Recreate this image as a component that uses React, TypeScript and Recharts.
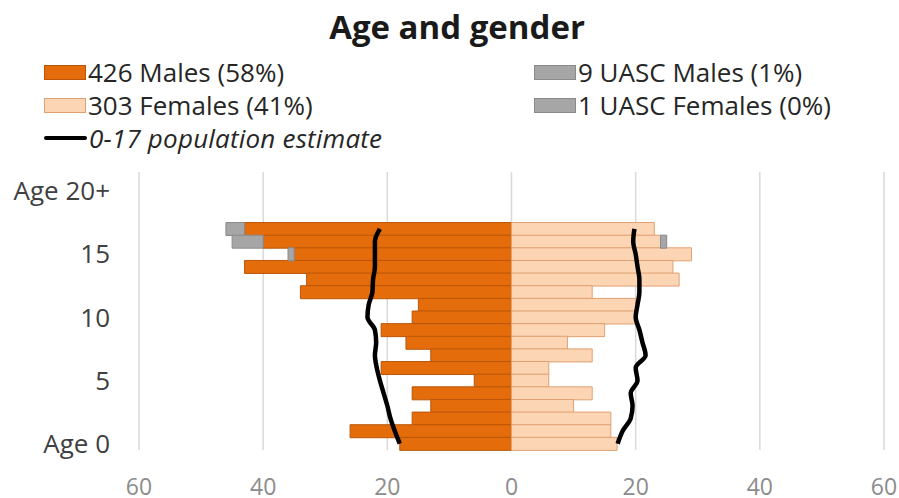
import React from 'react';
import { ComposedChart, Bar, Line, XAxis, YAxis, CartesianGrid } from 'recharts';

// ages 0..17
const ages = [0, 1, 2, 3, 4, 5, 6, 7, 8, 9, 10, 11, 12, 13, 14, 15, 16, 17];
const males = [18, 26, 16, 13, 16, 6, 21, 13, 17, 21, 16, 15, 34, 33, 43, 35, 40, 43];
const uascMales = [0, 0, 0, 0, 0, 0, 0, 0, 0, 0, 0, 0, 0, 0, 0, 1, 5, 3];
const females = [17, 16, 16, 10, 13, 6, 6, 13, 9, 15, 20, 20, 13, 27, 26, 29, 24, 23];
const uascFemales = [0, 0, 0, 0, 0, 0, 0, 0, 0, 0, 0, 0, 0, 0, 0, 0, 1, 0];
const popMale = [18, 18.8, 19.5, 20, 20.6, 21.2, 21.7, 22, 21.8, 22, 23.2, 23, 22.4, 22.3, 22, 22, 22, 21.2];
const popFemale = [17.1, 17.9, 19.2, 19.5, 19.2, 20.3, 20, 21.6, 21.1, 20.6, 20, 20.3, 20.6, 20.6, 20.3, 20, 19.6, 19.8];

// y categories bottom -> top (21 = blank spacer)
const categoryLabels = ['Age 0', '', '', '', '', '5', '', '', '', '', '10', '', '', '', '', '15', '', '', '', '', 'Age 20+', ''];
const xTicks = [-60, -40, -20, 0, 20, 40, 60];

const legendLeft = ['426 Males (58%)', '303 Females (41%)', '0-17 population estimate'];
const legendRight = ['9 UASC Males (1%)', '1 UASC Females (0%)'];

const MALE = '#E46C0A';
const MALE_STROKE = '#B9560A';
const FEMALE = '#FCD5B5';
const FEMALE_STROKE = '#E0A070';
const GREY = '#A6A6A6';
const GREY_STROKE = '#8A8A8A';

const data = categoryLabels
  .map((label, i) => {
    const idx = ages.indexOf(i);
    const has = idx >= 0;
    return {
      key: 'c' + i,
      label,
      male: has ? -males[idx] : null,
      uascMale: has ? -uascMales[idx] : null,
      female: has ? females[idx] : null,
      uascFemale: has ? uascFemales[idx] : null,
      popMale: has ? -popMale[idx] : null,
      popFemale: has ? popFemale[idx] : null,
    };
  })
  .reverse();

const labelByKey: Record<string, string> = {};
data.forEach((d) => (labelByKey[d.key] = d.label));

const FONT = '"Open Sans", "Noto Sans", sans-serif';

const Swatch = ({ fill, stroke }: { fill: string; stroke: string }) => (
  <div style={{ width: 42, height: 15, background: fill, border: `1.5px solid ${stroke}`, boxSizing: 'border-box', flex: 'none' }} />
);

const LegendRow = ({ top, left, children, text, italic }: any) => (
  <div style={{ position: 'absolute', top, left, display: 'flex', alignItems: 'center', height: 30 }}>
    {children}
    <span style={{ marginLeft: 2, fontSize: 26, lineHeight: '30px', color: '#262626', fontStyle: italic ? 'italic' : 'normal', whiteSpace: 'nowrap', letterSpacing: italic ? 0.2 : 0 }}>{text}</span>
  </div>
);

export default function App() {
  return (
    <div style={{ position: 'absolute', left: 0, top: 0, width: 899, height: 498, background: '#fff', fontFamily: FONT, overflow: 'hidden' }}>
      <div style={{ position: 'absolute', top: 6, left: 0, width: 914, textAlign: 'center', fontSize: 33, lineHeight: '42px', fontWeight: 700, color: '#1a1a1a' }}>
        Age and gender
      </div>
      <LegendRow top={57} left={44} text={legendLeft[0]}>
        <Swatch fill={MALE} stroke={MALE_STROKE} />
      </LegendRow>
      <LegendRow top={90} left={44} text={legendLeft[1]}>
        <Swatch fill={FEMALE} stroke={FEMALE_STROKE} />
      </LegendRow>
      <LegendRow top={123} left={44} text={legendLeft[2]} italic>
        <div style={{ width: 43, height: 4, background: '#000', borderRadius: 2, flex: 'none' }} />
      </LegendRow>
      <LegendRow top={57} left={534} text={legendRight[0]}>
        <Swatch fill={GREY} stroke={GREY_STROKE} />
      </LegendRow>
      <LegendRow top={90} left={534} text={legendRight[1]}>
        <Swatch fill={GREY} stroke={GREY_STROKE} />
      </LegendRow>

      <div style={{ position: 'absolute', left: 0, top: 0 }}>
        <ComposedChart
          width={899}
          height={498}
          data={data}
          layout="vertical"
          stackOffset="sign"
          barCategoryGap={0}
          barGap={0}
          margin={{ top: 172, right: 15, bottom: 0, left: 0 }}
        >
          <CartesianGrid horizontal={false} vertical stroke="#D9D9D9" strokeWidth={1.5} />
          <XAxis
            type="number"
            domain={[-60, 60]}
            ticks={xTicks}
            tickFormatter={(v: number) => String(Math.abs(v))}
            axisLine={false}
            tickLine={false}
            tickSize={0}
            tickMargin={29}
            height={48}
            interval={0}
            tick={{ fill: '#8C8C8C', fontSize: 23, fontFamily: FONT }}
          />
          <YAxis
            type="category"
            dataKey="key"
            width={139}
            interval={0}
            axisLine={false}
            tickLine={false}
            tickSize={0}
            tickMargin={29}
            tickFormatter={(k: string) => labelByKey[k] || ''}
            tick={{ fill: '#404040', fontSize: 26, fontFamily: FONT }}
          />
          <Bar dataKey="male" stackId="s" fill={MALE} stroke={MALE_STROKE} strokeWidth={1} isAnimationActive={false} />
          <Bar dataKey="uascMale" stackId="s" fill={GREY} stroke={GREY_STROKE} strokeWidth={1} isAnimationActive={false} />
          <Bar dataKey="female" stackId="s" fill={FEMALE} stroke={FEMALE_STROKE} strokeWidth={1} isAnimationActive={false} />
          <Bar dataKey="uascFemale" stackId="s" fill={GREY} stroke={GREY_STROKE} strokeWidth={1} isAnimationActive={false} />
          <Line dataKey="popMale" type="monotone" stroke="#000" strokeWidth={4.5} dot={false} isAnimationActive={false} />
          <Line dataKey="popFemale" type="monotone" stroke="#000" strokeWidth={4.5} dot={false} isAnimationActive={false} />
        </ComposedChart>
      </div>
    </div>
  );
}
